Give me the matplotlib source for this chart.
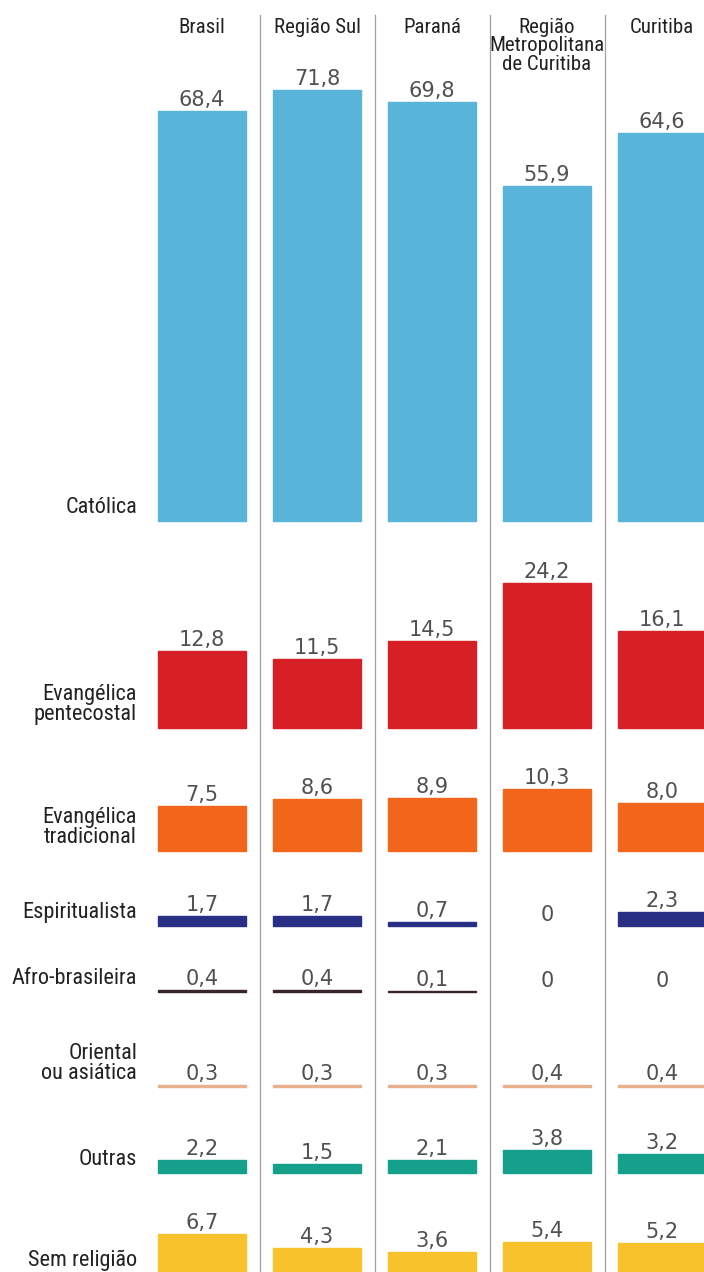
import matplotlib
matplotlib.use("Agg")
import matplotlib.pyplot as plt
from matplotlib import font_manager

# ---------------- data ----------------
regions = ["Brasil", "Região Sul", "Paraná",
           "Região\nMetropolitana\nde Curitiba", "Curitiba"]
religions = ["Católica", "Evangélica\npentecostal", "Evangélica\ntradicional",
             "Espiritualista", "Afro-brasileira", "Oriental\nou asiática",
             "Outras", "Sem religião"]
catolica = [68.4, 71.8, 69.8, 55.9, 64.6]
pentecostal = [12.8, 11.5, 14.5, 24.2, 16.1]
tradicional = [7.5, 8.6, 8.9, 10.3, 8.0]
espiritualista = [1.7, 1.7, 0.7, 0.0, 2.3]
afro = [0.4, 0.4, 0.1, 0.0, 0.0]
oriental = [0.3, 0.3, 0.3, 0.4, 0.4]
outras = [2.2, 1.5, 2.1, 3.8, 3.2]
sem_religiao = [6.7, 4.3, 3.6, 5.4, 5.2]
values = [catolica, pentecostal, tradicional, espiritualista, afro,
          oriental, outras, sem_religiao]

# ---------------- style / layout ----------------
colors = ["#58b4d9", "#d71f26", "#f2661b", "#2a2f86", "#3a2529",
          "#e8b08c", "#14a08b", "#f8c22c"]
W, H = 704, 1272
PX_PER_UNIT = 6.0
row_base_px = [521, 728, 851, 926, 992, 1087, 1173, 1274]   # baseline (px from top)
COL0_PX, COL_STEP_PX, BAR_W_PX = 202, 115, 88
LABEL_RIGHT_PX = 137

def pick_font(cands):
    names = {f.name for f in font_manager.fontManager.ttflist}
    for c in cands:
        if c in names:
            return c
    return "DejaVu Sans"

cond_font = pick_font(["Roboto Condensed", "Liberation Sans Narrow",
                       "DejaVu Sans Condensed", "Noto Sans"])
num_font = "DejaVu Sans"

fig = plt.figure(figsize=(W / 100, H / 100), dpi=100)
fig.patch.set_facecolor("white")
ax = fig.add_axes([0, 0, 1, 1])
ax.set_xlim(-COL0_PX / COL_STEP_PX, (W - COL0_PX) / COL_STEP_PX)
ax.set_ylim(0, H)
ax.axis("off")

xs = list(range(len(regions)))
bar_w = BAR_W_PX / COL_STEP_PX

# separators
for i in xs[:-1]:
    ax.plot([i + 0.5, i + 0.5], [0, H - 15], color="#a0a0a0", lw=0.9, zorder=1)

# headers
for i, r in zip(xs, regions):
    ax.text(i, H - 18, r, ha="center", va="top", fontsize=15,
            family=cond_font, color="#222222", linespacing=0.95)

label_x = -(COL0_PX - LABEL_RIGHT_PX) / COL_STEP_PX
for rel, vals, col, base_px in zip(religions, values, colors, row_base_px):
    base = H - base_px
    heights = [v * PX_PER_UNIT for v in vals]
    lws = [1.0 if v > 0 else 0 for v in vals]
    ax.bar(xs, heights, width=bar_w, bottom=base, color=col,
           edgecolor=col, linewidth=lws, zorder=2)
    for i, v, h in zip(xs, vals, heights):
        txt = "0" if v == 0 else f"{v:.1f}".replace(".", ",")
        ax.text(i, base + h + 5, txt, ha="center", va="baseline",
                fontsize=15, family=num_font, color="#505050", zorder=3)
    ax.text(label_x, base + 8, rel, ha="right", va="baseline",
            fontsize=16, family=cond_font, color="#222222",
            linespacing=0.95, multialignment="right")

fig.savefig("out.png", dpi=100, facecolor="white")
